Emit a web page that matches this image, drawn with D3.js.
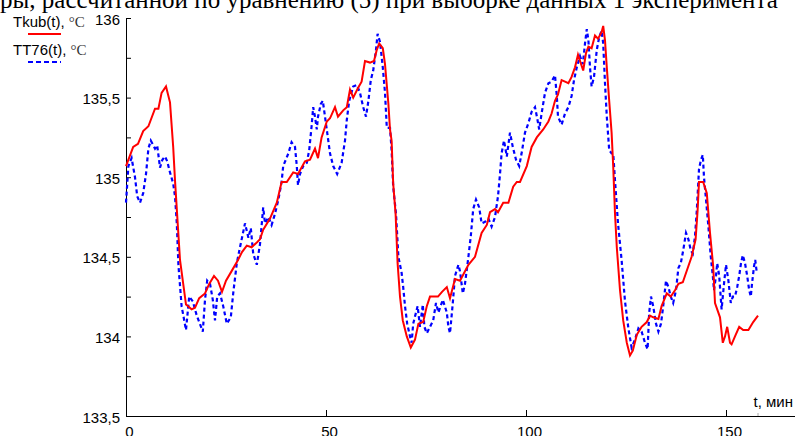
<!DOCTYPE html>
<html>
<head>
<meta charset="utf-8">
<script src="https://cdn.jsdelivr.net/npm/d3@7"></script>
<style>
  body { margin: 0; background: #fff; }
  .axis path, .axis line { stroke: #000; }
  .axis text { font-family: "Liberation Sans", Arial, sans-serif; font-size: 15px; fill: #000; }
</style>
</head>
<body>
<svg class="chart"></svg>
<script>
const title = "ры, рассчитанной по уравнению (5) при выборке данных 1 эксперимента";

// Tkub(t) — red solid
const tkubT = [0, 1.8, 3, 4.3, 5.6, 7.25, 8.1, 8.9, 10, 11, 11.8, 12.25, 13.5, 15, 16.4, 17.25, 18.3, 19.75, 20.8, 22,
  23, 24, 25, 26.4, 28, 29, 30.2, 31.4, 32.7, 33.5, 34.3, 36, 37.7, 38.9, 40.2, 41.8, 43, 44.75, 46, 47.25,
  48, 48.9, 50.2, 51, 52.25, 53, 54.3, 55.2, 56, 56.8, 58, 58.9, 59.75, 61, 62, 62.7, 63.3, 64.2, 64.75, 65.6,
  66, 66.4, 66.8, 67.4, 67.9, 68.5, 69.2, 70.2, 71.2, 72.25, 73.1, 74.3, 75.2, 76, 78, 79, 80.2, 81, 82.25, 83.5,
  85.6, 87.25, 88.9, 90.2, 91, 92.25, 93, 94.3, 95.6, 96.8, 97.7, 98.5, 100.2, 101.4, 102.7, 104.3, 105.6, 106.4, 107.25, 108,
  108.9, 109.75, 110.6, 111.4, 112.25, 113, 113.9, 114.3, 115, 115.6, 116.4, 117.25, 118, 118.9, 119.3, 119.75, 120.2, 120.8, 121.4, 121.8,
  122.25, 122.7, 123.5, 124.3, 125.2, 126, 126.7, 127.7, 128.9, 130.2, 131, 131.8, 133.1, 133.9, 135.2, 136.2, 137.25, 138.1, 139.2, 140.3,
  141.4, 142.4, 142.9, 143.25, 144.3, 145.2, 146, 146.8, 147.25, 148.5, 149.2, 149.75, 150.3, 151, 151.4, 152.25, 153.3, 154.3, 155.6, 156.8, 158];
const tkubV = [135.07, 135.19, 135.21, 135.29, 135.32, 135.43, 135.43, 135.53, 135.57, 135.47, 135.19, 134.98, 134.48, 134.2, 134.17, 134.18, 134.24, 134.27, 134.33, 134.38,
  134.35, 134.28, 134.35, 134.41, 134.48, 134.53, 134.57, 134.56, 134.59, 134.61, 134.67, 134.74, 134.84, 134.97, 134.97, 135.03, 135.02, 135.1, 135.11, 135.18,
  135.12, 135.25, 135.35, 135.37, 135.44, 135.38, 135.42, 135.44, 135.55, 135.5, 135.56, 135.6, 135.73, 135.72, 135.73, 135.8, 135.84, 135.81, 135.71, 135.46,
  135.3, 135.23, 134.96, 134.77, 134.46, 134.25, 134.1, 134.0, 133.93, 133.98, 134.08, 134.09, 134.19, 134.25, 134.25, 134.28, 134.31, 134.24, 134.36, 134.35,
  134.45, 134.5, 134.65, 134.7, 134.78, 134.8, 134.78, 134.84, 134.84, 134.94, 134.97, 134.97, 135.07, 135.19, 135.25, 135.3, 135.35, 135.4, 135.48, 135.52,
  135.61, 135.6, 135.59, 135.63, 135.69, 135.77, 135.7, 135.67, 135.78, 135.82, 135.81, 135.89, 135.87, 135.91, 135.95, 135.86, 135.69, 135.48, 135.28, 135.07,
  134.77, 134.56, 134.29, 134.1, 133.96, 133.88, 133.91, 134.01, 134.06, 134.09, 134.13, 134.12, 134.11, 134.19, 134.27, 134.25, 134.29, 134.33, 134.34, 134.42,
  134.5, 134.61, 134.79, 134.97, 134.97, 134.9, 134.65, 134.44, 134.21, 134.12, 133.96, 134.0, 134.06, 133.96, 133.95, 134.0, 134.06, 134.04, 134.04, 134.09, 134.13];

// TT76(t) — blue dotted
const tt76T = [0, 0.6, 1.4, 2.25, 2.8, 3.5, 4.3, 5, 5.6, 6.2, 7.25, 7.8, 8.5, 9.1, 9.75, 10.3, 11, 11.8, 12.25, 12.7,
  13.1, 13.9, 15, 15.8, 16.7, 17.7, 18.3, 19.2, 19.75, 20.3, 21, 21.7, 22.25, 22.8, 23.5, 24.3, 25.2, 26.2, 26.8, 27.7,
  28.5, 29.75, 30.6, 31.2, 31.8, 32.7, 33.5, 34.3, 34.75, 35.6, 36.4, 37.25, 38.1, 38.9, 39.3, 40.6, 41.4, 42.25, 42.7, 43,
  43.5, 44.3, 45.2, 45.8, 46.4, 46.8, 47.25, 47.7, 48, 48.7, 49.2, 49.75, 50.3, 51, 51.8, 52.8, 53.9, 54.75, 55.2, 55.8,
  56.8, 57.7, 58.5, 59.3, 60, 60.6, 61.2, 61.8, 62.5, 62.9, 63.5, 64.2, 64.75, 65.2, 66, 66.4, 66.8, 67.5, 68.1, 68.9,
  69.3, 69.75, 70.3, 71, 71.4, 71.8, 72.5, 72.9, 73.5, 74.2, 74.6, 75.2, 76, 76.8, 77.5, 78.1, 79.2, 80.2, 80.6, 81,
  81.7, 82.25, 83.1, 83.5, 84.2, 84.75, 85.6, 86.2, 86.8, 87.5, 88.3, 88.9, 89.75, 90.6, 91.4, 92.25, 93, 93.5, 93.9, 94.5,
  95.2, 96, 96.7, 97.5, 98.3, 98.9, 99.75, 100.6, 101.4, 102.25, 102.8, 103.3, 103.9, 104.75, 105.6, 106.4, 107.25, 107.7, 108, 108.9,
  109.75, 110.6, 111.4, 112, 112.7, 113.5, 114.2, 114.75, 115.2, 115.6, 116, 116.4, 117, 117.7, 118.3, 118.9, 119.3, 119.75, 120.2, 120.8,
  121.4, 121.8, 122.25, 123, 123.9, 124.75, 125.6, 126.4, 127.25, 128.1, 128.9, 129.75, 130.4, 130.8, 131.25, 131.8, 132.5, 133.1, 133.75, 134.3,
  135, 135.6, 136.2, 136.8, 137.5, 138.1, 138.7, 139.3, 140, 140.6, 141.2, 141.7, 142.25, 142.7, 143.25, 143.75, 144.2, 144.5, 145, 145.6,
  146.2, 146.7, 147, 147.5, 147.8, 148.3, 148.9, 149.5, 150, 150.6, 151.2, 151.7, 152.25, 152.8, 153.3, 153.75, 154.2, 154.75, 155.3, 155.8,
  156.2, 156.5, 157, 157.3, 157.7];
const tt76V = [134.84, 135.07, 135.12, 135.0, 134.88, 134.84, 134.9, 135.02, 135.18, 135.23, 135.18, 135.2, 135.06, 135.11, 135.13, 135.1, 135.03, 134.96, 134.88, 134.71,
  134.45, 134.19, 134.04, 134.25, 134.22, 134.13, 134.09, 134.03, 134.23, 134.35, 134.33, 134.23, 134.1, 134.25, 134.27, 134.19, 134.08, 134.12, 134.27, 134.46,
  134.56, 134.71, 134.62, 134.68, 134.52, 134.45, 134.58, 134.81, 134.71, 134.75, 134.7, 134.77, 134.86, 134.97, 135.07, 135.15, 135.22, 135.19, 135.07, 134.95,
  135.02, 135.07, 135.09, 135.17, 135.32, 135.44, 135.38, 135.3, 135.38, 135.46, 135.48, 135.38, 135.28, 135.15, 135.07, 135.02, 135.09, 135.23, 135.36, 135.48,
  135.57, 135.58, 135.53, 135.44, 135.38, 135.48, 135.61, 135.67, 135.8, 135.9, 135.85, 135.69, 135.53, 135.31, 135.31, 135.17, 134.94, 134.77, 134.5, 134.4,
  134.31, 134.19, 134.08, 134.0, 133.96, 134.08, 134.15, 134.19, 134.06, 134.2, 134.06, 134.02, 134.06, 134.1, 134.21, 134.15, 134.23, 134.15, 134.06, 134.02,
  134.21, 134.38, 134.45, 134.41, 134.27, 134.33, 134.5, 134.63, 134.8, 134.86, 134.81, 134.71, 134.72, 134.74, 134.69, 134.75, 134.88, 135.02, 135.15, 135.23,
  135.13, 135.28, 135.19, 135.11, 135.07, 135.15, 135.28, 135.34, 135.41, 135.44, 135.37, 135.3, 135.4, 135.53, 135.59, 135.6, 135.64, 135.51, 135.38, 135.33,
  135.4, 135.44, 135.51, 135.61, 135.69, 135.76, 135.71, 135.84, 135.93, 135.86, 135.69, 135.57, 135.63, 135.8, 135.88, 135.92, 135.84, 135.59, 135.38, 135.17,
  135.15, 135.15, 134.98, 134.71, 134.48, 134.22, 134.05, 133.93, 133.98, 134.05, 134.03, 133.96, 133.92, 134.15, 134.25, 134.19, 134.08, 134.03, 134.08, 134.19,
  134.35, 134.31, 134.25, 134.21, 134.29, 134.43, 134.46, 134.54, 134.65, 134.61, 134.54, 134.52, 134.63, 134.79, 135.05, 135.11, 135.14, 135.0, 134.86, 134.69,
  134.5, 134.38, 134.29, 134.38, 134.46, 134.38, 134.17, 134.33, 134.45, 134.35, 134.21, 134.25, 134.25, 134.31, 134.38, 134.46, 134.51, 134.46, 134.38, 134.29,
  134.25, 134.33, 134.44, 134.48, 134.4];

const xTicks = [0, 50, 100, 150];
const yTicks = [133.5, 134, 134.5, 135, 135.5, 136];
const yMinor = [133.75, 134.25, 134.75, 135.25, 135.75];

const width = 795, height = 436;

const x = d3.scaleLinear()
  .domain([0, 167.25])
  .range([126, 795]);

const y = d3.scaleLinear()
  .domain([133.5, 136])
  .range([416, 18]);

const svg = d3.select('.chart')
  .attr('width', width)
  .attr('height', height);

// clipped title running off the top
svg.append('text')
  .attr('x', 0)
  .attr('y', 8)
  .attr('font-family', '"Liberation Serif", "Times New Roman", serif')
  .attr('font-size', 25)
  .text(title);

const fmt = d => String(d).replace('.', ',');

svg.append('g')
  .attr('class', 'y axis')
  .attr('transform', 'translate(' + x(0) + ',0)')
  .call(d3.axisLeft(y).tickValues(yTicks).tickFormat(fmt).tickSizeInner(-5).tickSizeOuter(0).tickPadding(6))
  .call(g => g.selectAll('text').attr('dy', '0.4em'));

svg.append('g')
  .attr('class', 'y axis minor')
  .attr('transform', 'translate(' + x(0) + ',0)')
  .call(d3.axisLeft(y).tickValues(yMinor).tickFormat('').tickSizeInner(-5).tickSizeOuter(0))
  .call(g => g.select('.domain').remove());

svg.append('g')
  .attr('class', 'x axis')
  .attr('transform', 'translate(0,' + y(133.5) + ')')
  .call(d3.axisBottom(x).tickValues(xTicks).tickFormat(d3.format('d')).tickSizeInner(-6).tickSizeOuter(0).tickPadding(10))
  .call(g => g.selectAll('text').attr('dx', 3));

// faint end marker on the time axis
svg.append('line')
  .attr('x1', x(d3.max(tkubT))).attr('x2', x(d3.max(tkubT)))
  .attr('y1', y(133.5) - 3).attr('y2', y(133.5))
  .attr('stroke', '#aaa');

svg.append('text')
  .attr('x', 793)
  .attr('y', 407)
  .attr('text-anchor', 'end')
  .attr('font-family', '"Liberation Sans", Arial, sans-serif')
  .attr('font-size', 15)
  .text('t, мин');

const line = (ts, vs) => d3.line()
  .x((d, i) => x(ts[i]))
  .y(d => y(d))(vs);

svg.append('path')
  .attr('d', line(tt76T, tt76V))
  .attr('fill', 'none')
  .attr('stroke', '#0000ff')
  .attr('stroke-width', 2.2)
  .attr('stroke-dasharray', '4,3');

svg.append('path')
  .attr('d', line(tkubT, tkubV))
  .attr('fill', 'none')
  .attr('stroke', '#ff0000')
  .attr('stroke-width', 2);

// legend
const legend = svg.append('g');
const legendItems = [
  {label: 'Tkub(t), ', unit: '°C', color: '#ff0000', dash: null, y: 27},
  {label: 'TT76(t), ', unit: '°C', color: '#0000ff', dash: '5,3', y: 55}
];
legendItems.forEach(d => {
  const t = legend.append('text')
    .attr('x', 13)
    .attr('y', d.y)
    .attr('font-size', 15);
  t.append('tspan')
    .attr('font-family', '"Liberation Sans", Arial, sans-serif')
    .text(d.label);
  t.append('tspan')
    .attr('font-family', '"Liberation Serif", "Times New Roman", serif')
    .attr('fill', '#333')
    .text(d.unit);
  legend.append('line')
    .attr('x1', 28).attr('x2', 61)
    .attr('y1', d.y + 7).attr('y2', d.y + 7)
    .attr('stroke', d.color)
    .attr('stroke-width', 2)
    .attr('stroke-dasharray', d.dash);
});
</script>
</body>
</html>
